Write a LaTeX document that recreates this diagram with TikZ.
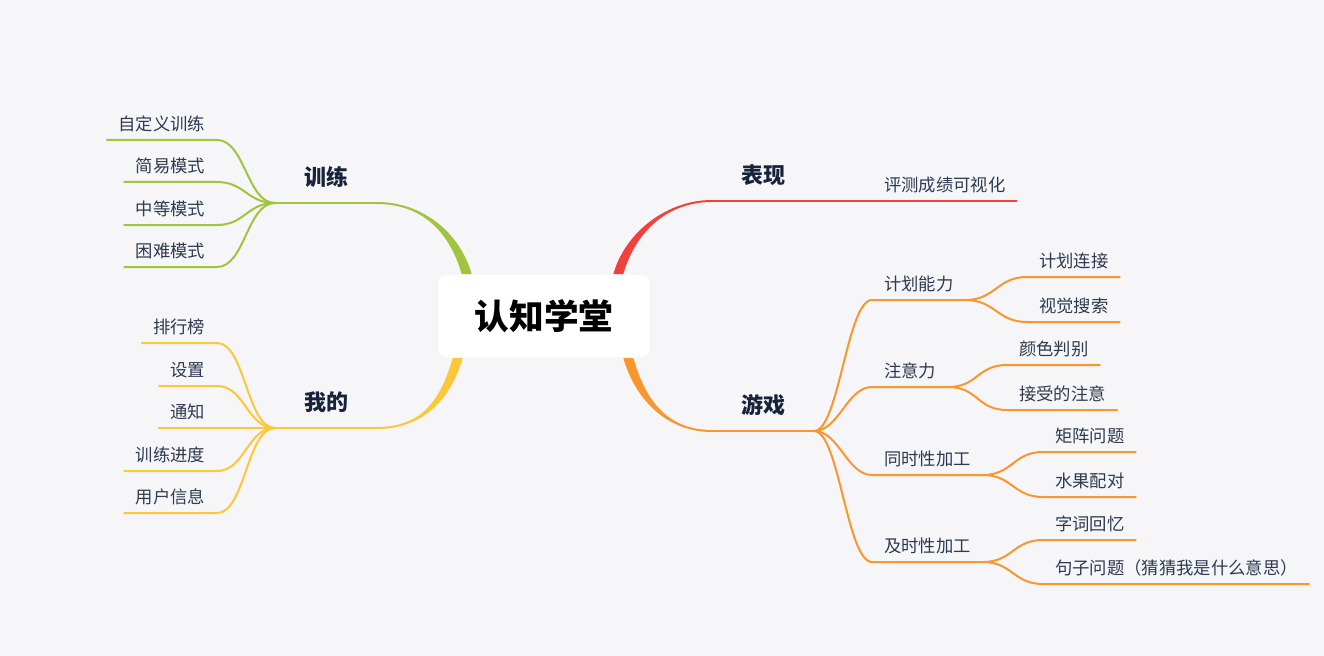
\documentclass[tikz,border=0pt]{standalone}
\usepackage{fontspec}
\setmainfont{Noto Sans CJK SC}
\usetikzlibrary{calc}

\definecolor{bg}{HTML}{F6F6F8}
\definecolor{xlgreen}{HTML}{A0C43F}
\definecolor{wdyellow}{HTML}{FDC73A}
\definecolor{bxred}{HTML}{F0413A}
\definecolor{yxorange}{HTML}{F9972F}
\definecolor{maintext}{HTML}{17233A}
\definecolor{leaftext}{HTML}{2D3A4F}

\begin{document}
\begin{tikzpicture}[x=0.75pt, y=-0.75pt, line width=1.5pt,
  root/.style={fill=white, rounded corners=5pt, minimum width=158pt, minimum height=61.5pt,
    font=\bfseries\fontsize{26}{30}\selectfont, text=black},
  main/.style={font=\bfseries\fontsize{16.5}{20}\selectfont, text=maintext, minimum width=75pt,
    inner xsep=0pt, inner ysep=10.5pt, text height=0.8em, text depth=0.2em},
  leaf/.style={font=\fontsize{13}{16}\selectfont, text=leaftext,
    inner xsep=8.25pt, inner ysep=4.5pt, text height=0.8em, text depth=0.2em}]

  \fill[bg] (0,0) rectangle (1324,656);

  % centre and main topics
  \node[root] (root) at (544,316) {认知学堂};
  \node[main, anchor=south east] (xl) at (377,203) {训练};
  \node[main, anchor=south east] (wd) at (377,428) {我的};
  \node[main, anchor=south west] (bx) at (712,201) {表现};
  \node[main, anchor=south west] (yx) at (712,431) {游戏};

  \coordinate (xlB) at ($(root.north west)+(29,0)$);
  \coordinate (wdB) at ($(root.south west)+(20,0)$);
  \coordinate (bxB) at ($(root.north east)+(-32,0)$);
  \coordinate (yxB) at ($(root.south east)+(-22,0)$);

  % tapered trunks
  \fill[xlgreen] ($(xlB)+(5,0)$) .. controls +(-12,-42) and +(45,0) .. ($(xl.south east)+(0,-1)$)
    -- ($(xl.south east)+(0,1)$) .. controls +(45,0) and +(-12,-42) .. ($(xlB)+(-5,0)$) -- cycle;
  \fill[wdyellow] ($(wdB)+(5,0)$) .. controls +(-12,42) and +(45,0) .. ($(wd.south east)+(0,1)$)
    -- ($(wd.south east)+(0,-1)$) .. controls +(45,0) and +(-12,42) .. ($(wdB)+(-5,0)$) -- cycle;
  \fill[bxred] ($(bxB)+(-5,0)$) .. controls +(12,-42) and +(-45,0) .. ($(bx.south west)+(0,-1)$)
    -- ($(bx.south west)+(0,1)$) .. controls +(-45,0) and +(12,-42) .. ($(bxB)+(5,0)$) -- cycle;
  \fill[yxorange] ($(yxB)+(-5,0)$) .. controls +(12,42) and +(-45,0) .. ($(yx.south west)+(0,1)$)
    -- ($(yx.south west)+(0,-1)$) .. controls +(-45,0) and +(12,42) .. ($(yxB)+(5,0)$) -- cycle;
  \node[root] at (root) {认知学堂};

  \draw[xlgreen] (xl.south east) -- (xl.south west);
  \draw[wdyellow] (wd.south east) -- (wd.south west);
  \draw[bxred] (bx.south west) -- (bx.south east);
  \draw[yxorange] (yx.south west) -- (yx.south east);

  % 训练
  \node[leaf, anchor=south east] (zdy) at (217,140) {自定义训练};
  \node[leaf, anchor=south east] (jy) at (217,182) {简易模式};
  \node[leaf, anchor=south east] (zd) at (217,225) {中等模式};
  \node[leaf, anchor=south east] (kn) at (217,267) {困难模式};
  \foreach \n in {zdy,jy,zd,kn}
    \draw[xlgreen] (xl.south west) .. controls +(-28,0) and +(28,0) .. (\n.south east) -- (\n.south west);

  % 我的
  \node[leaf, anchor=south east] (phb) at (217,343) {排行榜};
  \node[leaf, anchor=south east] (sz) at (217,386) {设置};
  \node[leaf, anchor=south east] (tz) at (217,428) {通知};
  \node[leaf, anchor=south east] (xljd) at (217,471) {训练进度};
  \node[leaf, anchor=south east] (yhxx) at (217,513) {用户信息};
  \foreach \n in {phb,sz,tz,xljd,yhxx}
    \draw[wdyellow] (wd.south west) .. controls +(-28,0) and +(28,0) .. (\n.south east) -- (\n.south west);

  % 表现
  \node[leaf, anchor=south west] (pc) at (872,201) {评测成绩可视化};
  \draw[bxred] (bx.south east) -- (pc.south west) -- (pc.south east);

  % 游戏
  \node[leaf, anchor=south west] (jhnl) at (872,300) {计划能力};
  \node[leaf, anchor=south west] (zyl) at (872,387) {注意力};
  \node[leaf, anchor=south west] (tsx) at (872,475) {同时性加工};
  \node[leaf, anchor=south west] (jsx) at (872,562) {及时性加工};
  \foreach \n in {jhnl,zyl,tsx,jsx}
    \draw[yxorange] (yx.south east) .. controls +(25,0) and +(-25,0) .. (\n.south west) -- (\n.south east);

  \node[leaf, anchor=south west] (jhlj) at (1027,277) {计划连接};
  \node[leaf, anchor=south west] (sjss) at (1027,322) {视觉搜索};
  \node[leaf, anchor=south west] (ysbb) at (1007,365) {颜色判别};
  \node[leaf, anchor=south west] (jsdzy) at (1007,410) {接受的注意};
  \node[leaf, anchor=south west] (jzwt) at (1043,452) {矩阵问题};
  \node[leaf, anchor=south west] (sgpd) at (1043,497) {水果配对};
  \node[leaf, anchor=south west] (zchy) at (1043,540) {字词回忆};
  \node[leaf, anchor=south west] (jzwt2) at (1043,584) {句子问题（猜猜我是什么意思）};
  \foreach \p/\n in {jhnl/jhlj,jhnl/sjss,zyl/ysbb,zyl/jsdzy,tsx/jzwt,tsx/sgpd,jsx/zchy,jsx/jzwt2}
    \draw[yxorange] (\p.south east) .. controls +(30,0) and +(-30,0) .. (\n.south west) -- (\n.south east);
\end{tikzpicture}
\end{document}
